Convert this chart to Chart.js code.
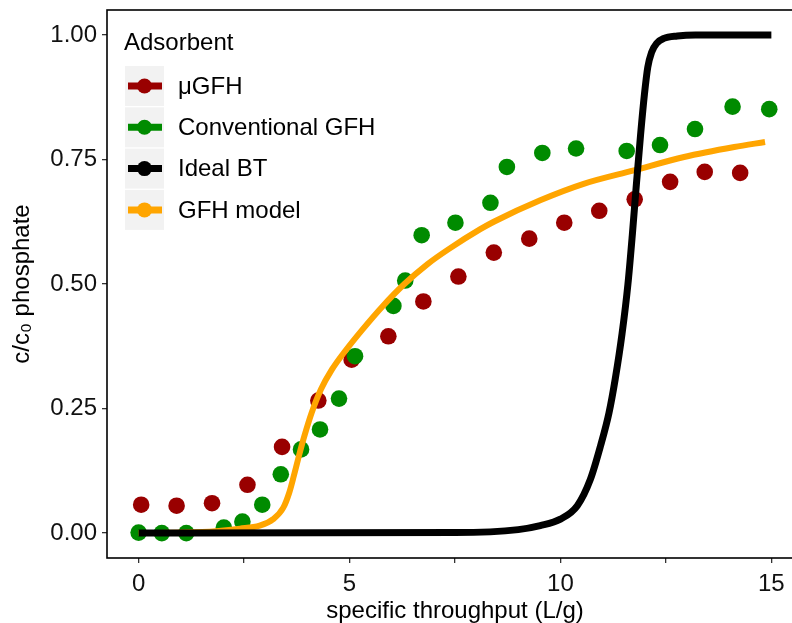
<!DOCTYPE html>
<html>
<head>
<meta charset="utf-8">
<script src="https://cdn.jsdelivr.net/npm/chart.js@4.4.1/dist/chart.umd.min.js"></script>
<style>
  html, body { margin: 0; padding: 0; background: #fff; overflow: hidden; }
  #wrap { width: 812px; height: 623px; }
</style>
</head>
<body>
<div id="wrap"><canvas id="chart" width="812" height="623"></canvas></div>
<script>
// measured breakthrough points, uGFH
const ugfhX = [0.06, 0.90, 1.74, 2.58, 3.40, 4.26, 5.05, 5.92, 6.75, 7.58, 8.42, 9.26, 10.09, 10.92, 11.76, 12.60, 13.42, 14.26];
const ugfhY = [0.057, 0.055, 0.060, 0.097, 0.173, 0.266, 0.348, 0.395, 0.465, 0.515, 0.563, 0.591, 0.623, 0.647, 0.670, 0.705, 0.725, 0.723];

// conventional GFH
const convX = [0.0, 0.55, 1.13, 2.02, 2.46, 2.93, 3.37, 3.85, 4.30, 4.75, 5.13, 6.04, 6.32, 6.71, 7.51, 8.34, 8.73, 9.57, 10.37, 11.57, 12.36, 13.19, 14.08, 14.95];
const convY = [0.001, 0.0, 0.0, 0.011, 0.023, 0.057, 0.118, 0.168, 0.208, 0.270, 0.355, 0.456, 0.507, 0.598, 0.623, 0.663, 0.735, 0.763, 0.772, 0.767, 0.779, 0.811, 0.856, 0.851];

// ideal breakthrough curve
const idealX = [0, 7.5, 9.0, 9.52, 10.0, 10.4, 10.71, 10.95, 11.15, 11.30, 11.46, 11.60, 11.705, 11.80, 11.90, 11.99, 12.07, 12.16, 12.28, 12.45, 12.77, 13.2, 15.0];
const idealY = [0, 0.001, 0.007, 0.015, 0.028, 0.055, 0.108, 0.175, 0.241, 0.31, 0.40, 0.50, 0.60, 0.70, 0.80, 0.88, 0.935, 0.965, 0.983, 0.993, 0.998, 1.0, 1.0];

// GFH model curve
const modelX = [0, 1.5, 2.4, 2.87, 3.19, 3.43, 3.57, 3.68, 3.80, 3.93, 4.10, 4.32, 4.58, 4.92, 5.30, 5.78, 6.30, 6.85, 7.35, 8.1, 8.42, 9.52, 10.55, 11.74, 12.93, 14.12, 14.85];
const modelY = [0, 0.002, 0.009, 0.015, 0.028, 0.051, 0.081, 0.115, 0.155, 0.195, 0.241, 0.288, 0.328, 0.368, 0.408, 0.455, 0.50, 0.54, 0.57, 0.61, 0.625, 0.668, 0.701, 0.728, 0.755, 0.775, 0.785];

const seriesNames = ['\u03bcGFH', 'Conventional GFH', 'Ideal BT', 'GFH model'];
const seriesColors = ['#990000', '#008B00', '#000000', '#FFA500'];

const xTicks = [0, 2.5, 5, 7.5, 10, 12.5, 15];
const xTickLabels = ['0', '', '5', '', '10', '', '15'];
const yTicks = [0, 0.25, 0.5, 0.75, 1];
const yTickLabels = ['0.00', '0.25', '0.50', '0.75', '1.00'];

const FONT = '"Liberation Sans", Arial, sans-serif';

const pts = (xs, ys) => xs.map((x, i) => ({ x: x, y: ys[i] }));

// ggplot-style legend drawn inside the panel, top left
const insideLegend = {
  id: 'insideLegend',
  afterDraw(chart) {
    const ctx = chart.ctx;
    ctx.save();
    ctx.fillStyle = '#000';
    ctx.font = '24px ' + FONT;
    ctx.textBaseline = 'alphabetic';
    ctx.textAlign = 'left';
    ctx.fillText('Adsorbent', 124, 50);
    const keyL = 125, keyW = 39, keyH = 40, top0 = 66;
    chart.data.datasets.forEach((ds, i) => {
      const top = top0 + i * (keyH + 1.3);
      const cy = top + keyH / 2;
      ctx.fillStyle = '#F2F2F2';
      ctx.fillRect(keyL, top, keyW, keyH);
      ctx.strokeStyle = ds.borderColor;
      ctx.lineWidth = 7;
      ctx.lineCap = 'butt';
      ctx.beginPath();
      ctx.moveTo(keyL + 3, cy);
      ctx.lineTo(keyL + keyW - 2, cy);
      ctx.stroke();
      ctx.fillStyle = ds.borderColor;
      ctx.beginPath();
      ctx.arc(keyL + keyW / 2, cy, 7.5, 0, Math.PI * 2);
      ctx.fill();
      ctx.fillStyle = '#000';
      ctx.textBaseline = 'middle';
      ctx.fillText(ds.label, 178, cy + 1);
    });
    ctx.restore();
  }
};

// panel border on all four sides
const panelBorder = {
  id: 'panelBorder',
  afterDatasetsDraw(chart) {
    const a = chart.chartArea;
    const ctx = chart.ctx;
    ctx.save();
    ctx.strokeStyle = '#000';
    ctx.lineWidth = 1.6;
    ctx.strokeRect(a.left, a.top, a.right - a.left, a.bottom - a.top);
    ctx.restore();
  }
};

new Chart(document.getElementById('chart').getContext('2d'), {
  type: 'scatter',
  data: {
    datasets: [
      {
        label: seriesNames[0],
        data: pts(ugfhX, ugfhY),
        borderColor: seriesColors[0],
        backgroundColor: seriesColors[0],
        pointRadius: 8.3,
        pointBorderWidth: 0,
        order: 3
      },
      {
        label: seriesNames[1],
        data: pts(convX, convY),
        borderColor: seriesColors[1],
        backgroundColor: seriesColors[1],
        pointRadius: 8.3,
        pointBorderWidth: 0,
        order: 2
      },
      {
        label: seriesNames[2],
        data: pts(idealX, idealY),
        borderColor: seriesColors[2],
        backgroundColor: seriesColors[2],
        showLine: true,
        borderWidth: 7,
        pointRadius: 0,
        cubicInterpolationMode: 'monotone',
        order: 0
      },
      {
        label: seriesNames[3],
        data: pts(modelX, modelY),
        borderColor: seriesColors[3],
        backgroundColor: seriesColors[3],
        showLine: true,
        borderWidth: 6,
        pointRadius: 0,
        cubicInterpolationMode: 'monotone',
        order: 1
      }
    ]
  },
  options: {
    responsive: false,
    animation: false,
    layout: { padding: { top: 10, right: 9, left: 0, bottom: 0 } },
    plugins: {
      legend: { display: false },
      tooltip: { enabled: false }
    },
    scales: {
      x: {
        type: 'linear',
        min: -0.75,
        max: 15.75,
        afterFit: s => { s.height = 65; s.paddingLeft = 0; s.paddingRight = 0; },
        afterBuildTicks: s => { s.ticks = xTicks.map(v => ({ value: v })); },
        border: { display: false },
        grid: { drawOnChartArea: false, drawTicks: true, tickLength: 5, color: '#333', lineWidth: 1.3 },
        ticks: {
          color: '#111',
          font: { family: FONT, size: 24 },
          padding: 7,
          maxRotation: 0,
          autoSkip: false,
          callback: (v, i) => xTickLabels[i]
        },
        title: {
          display: true,
          text: 'specific throughput (L/g)',
          color: '#000',
          font: { family: FONT, size: 24, lineHeight: 1 },
          padding: { top: 0, bottom: 0 }
        }
      },
      y: {
        type: 'linear',
        min: -0.05,
        max: 1.05,
        afterFit: s => { s.width = 107; s.paddingTop = 0; s.paddingBottom = 0; },
        afterBuildTicks: s => { s.ticks = yTicks.map(v => ({ value: v })); },
        border: { display: false },
        grid: { drawOnChartArea: false, drawTicks: true, tickLength: 5, color: '#333', lineWidth: 1.3 },
        ticks: {
          color: '#111',
          font: { family: FONT, size: 24 },
          padding: 5,
          autoSkip: false,
          callback: (v, i) => yTickLabels[i]
        },
        title: {
          display: true,
          text: 'c/c\u2080 phosphate',
          color: '#000',
          font: { family: FONT, size: 24, lineHeight: 1 },
          padding: { top: 10, bottom: 0 }
        }
      }
    }
  },
  plugins: [panelBorder, insideLegend]
});
</script>
</body>
</html>
